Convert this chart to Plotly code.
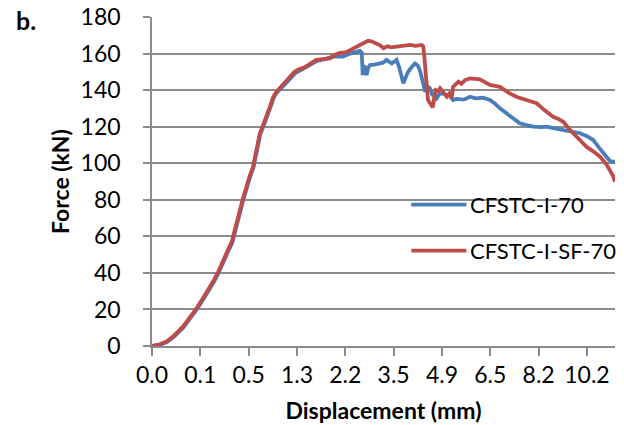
import plotly.graph_objects as go

# Category-axis position (in units of the label interval) and force (kN)
red_pos = [0, 0.15, 0.30, 0.45, 0.64, 0.80, 0.92, 1.05, 1.16, 1.27, 1.37, 1.47, 1.57, 1.65, 1.68,
           1.75, 1.82, 1.88, 1.95, 2.02, 2.09, 2.15, 2.20, 2.23, 2.30, 2.37, 2.44, 2.51, 2.57, 2.64,
           2.71, 2.78, 2.86, 2.95, 3.02, 3.09, 3.18, 3.27, 3.40, 3.55, 3.68, 3.80, 3.89, 4.02, 4.16,
           4.30, 4.40, 4.47, 4.55, 4.65, 4.72, 4.79, 4.87, 4.95, 5.06, 5.15, 5.25, 5.34, 5.45, 5.58,
           5.61, 5.63, 5.66, 5.68, 5.71, 5.76, 5.81, 5.84, 5.87, 5.92, 5.96, 6.02, 6.10, 6.15, 6.20,
           6.23, 6.28, 6.34, 6.40, 6.48, 6.58, 6.68, 6.78, 6.88, 6.99, 7.10, 7.20, 7.30, 7.40, 7.55,
           7.75, 7.96, 8.10, 8.30, 8.40, 8.51, 8.65, 8.80, 8.99, 9.13, 9.27, 9.40, 9.48, 9.54, 9.58]
red_force = [0, 0.8, 2.4, 5.5, 10.6, 16, 20.6, 26, 30.6, 35.5, 40.6, 46, 52.5, 57, 59.8,
             66, 74.4, 80.5, 87, 93, 98, 106, 113, 116.3, 121, 125.4, 131, 136.4, 139, 141,
             143, 144.6, 147.5, 150, 151.2, 151.9, 152.8, 154.3, 156.5, 157, 157.4, 159.5, 160.4, 160.8, 162.9,
             164.6, 166, 167, 166.6, 165.6, 164.5, 162.9, 164, 163.4, 163.7, 164.3, 164.1, 164.7, 164.2, 164.7,
             164, 160, 150, 141.8, 134.6, 132.5, 130.6, 136, 140, 139.5, 141, 139, 136.4, 138, 135.5,
             141.8, 143, 144.6, 143.5, 145.5, 146.4, 146, 145.9, 144.5, 142.8, 142.3, 141.8, 140, 138.2, 136.2,
             134.6, 132.8, 129.5, 125.4, 124.3, 122.7, 118.2, 114, 109, 106.5, 103.6, 99.5, 96.3, 93, 89.9]

blue_pos = [0, 0.16, 0.31, 0.46, 0.65, 0.81, 0.93, 1.06, 1.17, 1.28, 1.38, 1.48, 1.58, 1.66, 1.69,
            1.76, 1.83, 1.89, 1.96, 2.03, 2.10, 2.16, 2.21, 2.24, 2.31, 2.38, 2.45, 2.52, 2.58, 2.65,
            2.72, 2.79, 2.87, 2.95, 3.09, 3.27, 3.40, 3.55, 3.75, 3.95, 4.10, 4.30, 4.34, 4.36, 4.38,
            4.40, 4.42, 4.44, 4.47, 4.51, 4.60, 4.71, 4.78, 4.85, 4.90, 4.96, 5.02, 5.06, 5.12, 5.20,
            5.25, 5.30, 5.37, 5.44, 5.50, 5.54, 5.58, 5.62, 5.65, 5.70, 5.75, 5.80, 5.85, 5.89, 5.95,
            6.03, 6.10, 6.15, 6.23, 6.30, 6.37, 6.45, 6.58, 6.70, 6.85, 6.99, 7.10, 7.20, 7.40, 7.61,
            7.75, 7.89, 8.05, 8.17, 8.30, 8.51, 8.70, 8.86, 9.00, 9.13, 9.25, 9.34, 9.45, 9.51, 9.58]
blue_force = [0, 0.6, 2.1, 5.1, 10.1, 15.5, 20.1, 25.5, 30.1, 35, 40.1, 45.5, 52, 56.5, 59.3,
              65.5, 73.9, 80, 86.5, 92.5, 97.5, 105.5, 112.5, 115.8, 120.5, 124.9, 130.5, 135.9, 138.5, 140.4,
              142.3, 143.8, 146.5, 149, 151, 153.5, 155.8, 156.8, 158.3, 158.3, 160, 161.5, 160.5, 148.2, 153,
              152.8, 150, 148.2, 152, 153.7, 153.9, 154.6, 155, 156.5, 155.5, 154.6, 155.7, 156.5, 152, 143.7,
              147, 150, 152.5, 154.6, 153.5, 151, 147, 142, 139.1, 142, 141, 137.5, 137, 135.5, 138,
              138.2, 137, 137.3, 134.6, 135.2, 135, 134.8, 136.4, 135.5, 135.8, 134.6, 132.5, 130, 126, 121.8,
              120.8, 120, 119.8, 120, 119.2, 118.2, 117.5, 116.4, 114.8, 112.7, 108.5, 105.4, 102, 100.8, 100.8]

series_names = ["CFSTC-I-70", "CFSTC-I-SF-70"]
series_colors = ["#4A7EBB", "#BE4B48"]
tick_labels = ["0.0", "0.1", "0.5", "1.3", "2.2", "3.5", "4.9", "6.5", "8.2", "10.2"]
y_ticks = [0, 20, 40, 60, 80, 100, 120, 140, 160, 180]

FONT = "Lato, Carlito, Calibri, sans-serif"
GRID = "#8C8C8C"
LW = 3.8

fig = go.Figure()
fig.add_trace(go.Scatter(x=blue_pos, y=blue_force, mode="lines", name=series_names[0],
                         line=dict(color=series_colors[0], width=LW), showlegend=False))
fig.add_trace(go.Scatter(x=red_pos, y=red_force, mode="lines", name=series_names[1],
                         line=dict(color=series_colors[1], width=LW), showlegend=False))

# Manual legend (line sample + label), in paper coordinates
legend_y = [0.430, 0.290]
for name, color, ly in zip(series_names, series_colors, legend_y):
    fig.add_shape(type="line", xref="paper", yref="paper",
                  x0=0.560, x1=0.679, y0=ly, y1=ly,
                  line=dict(color=color, width=LW))
    fig.add_annotation(text=name, xref="paper", yref="paper", x=0.683, y=ly,
                       xanchor="left", yanchor="middle", showarrow=False,
                       font=dict(family=FONT, size=22, color="#000000"))

fig.add_annotation(text="<b>b.</b>", xref="paper", yref="paper", x=-0.298, y=0.99,
                   xanchor="left", yanchor="middle", showarrow=False,
                   font=dict(family=FONT, size=25, color="#000000"))

fig.update_layout(
    width=624, height=425,
    margin=dict(l=152, r=9, t=17, b=79),
    paper_bgcolor="white", plot_bgcolor="white",
    font=dict(family=FONT, size=23, color="#000000"),
    xaxis=dict(range=[0, 9.58], tickvals=list(range(len(tick_labels))), ticktext=tick_labels,
               automargin=False,
               showgrid=False, zeroline=False, showline=True, linecolor=GRID, linewidth=1.5,
               ticks="outside", ticklen=8, tickcolor=GRID, tickwidth=1.5,
               ticklabelstandoff=0,
               title=dict(text="<b>Displacement (mm)</b>", font=dict(family=FONT, size=23), standoff=16)),
    yaxis=dict(range=[0, 180], tickvals=y_ticks, showgrid=True, gridcolor=GRID, gridwidth=1.5,
               automargin=False,
               zeroline=False, showline=True, linecolor=GRID, linewidth=1.5,
               ticks="outside", ticklen=7, tickcolor=GRID, tickwidth=1.5,
               ticklabelstandoff=18,
               title=dict(text="<b>Force (kN)</b>", font=dict(family=FONT, size=23), standoff=5)),
)

# Remove the browser's default 8px body margin so the figure fills the window exactly
fig.write_html("out.html", config={"displayModeBar": False},
               post_script="document.body.style.margin='0px';")
